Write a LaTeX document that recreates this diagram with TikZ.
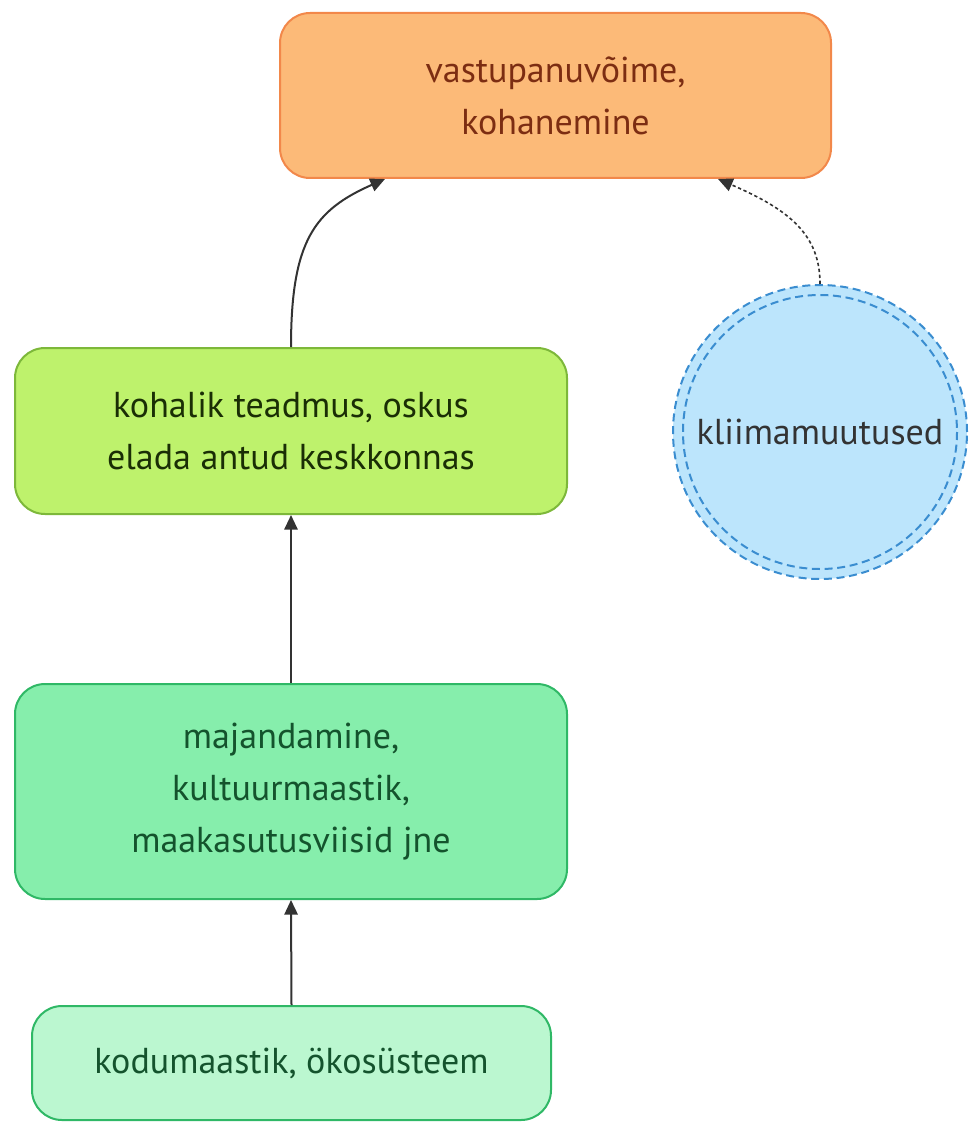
\documentclass[tikz,border=0pt]{standalone}
\usepackage{fontspec}
\setmainfont{PT Sans}
\usetikzlibrary{arrows.meta}

\definecolor{orfill}{HTML}{FCBA78}
\definecolor{ordraw}{HTML}{F2884A}
\definecolor{ortext}{HTML}{7C2D12}
\definecolor{limefill}{HTML}{BEF26C}
\definecolor{limedraw}{HTML}{7DB83A}
\definecolor{limetext}{HTML}{1A2E05}
\definecolor{grfill}{HTML}{86EEAC}
\definecolor{grdraw}{HTML}{2FB866}
\definecolor{grtext}{HTML}{14532D}
\definecolor{lgfill}{HTML}{BBF7D0}
\definecolor{skyfill}{HTML}{BCE5FC}
\definecolor{skydraw}{HTML}{3A8DD0}
\definecolor{linkcol}{HTML}{333333}

\tikzset{
  box/.style={draw, rounded corners=22.5pt, line width=1.5pt, align=center,
    inner sep=0pt, font=\fontsize{27}{39}\selectfont},
  ring/.style={draw=skydraw, line width=1.5pt, dash pattern=on 6pt off 3.5pt},
  link/.style={draw=linkcol, line width=1.5pt, -{Triangle[length=11pt,width=10pt]}},
  dotlink/.style={link, line width=1.2pt, dash pattern=on 2.5pt off 2pt}
}

\begin{document}
\begin{tikzpicture}[x=0.75pt,y=0.75pt,yscale=-1,xscale=1]
		\useasboundingbox (0,0) rectangle (974,1123);
		% boxes
		\node (resil) [box, fill=orfill, draw=ordraw, text=ortext, minimum width=413.25pt, minimum height=123.75pt] at (555.5,95.5) {vastupanuvõime,\\kohanemine};
		\node (know) [box, fill=limefill, draw=limedraw, text=limetext, minimum width=414pt, minimum height=124.5pt] at (291,431) {kohalik teadmus, oskus\\elada antud keskkonnas};
		\node (land) [box, fill=grfill, draw=grdraw, text=grtext, minimum width=414pt, minimum height=161.25pt] at (291,791.5) {majandamine,\\kultuurmaastik,\\maakasutusviisid jne};
		\node (home) [box, fill=lgfill, draw=grdraw, text=grtext, minimum width=389.25pt, minimum height=85.5pt] at (291.5,1063) {kodumaastik, ökosüsteem};
		\node (clim) [circle, fill=skyfill, ring, minimum size=220.5pt, inner sep=0pt, text=linkcol, font=\fontsize{27}{39}\selectfont] at (820,432) {kliimamuutused};
		\draw [ring] (clim.center) circle (137);
		% free ends
		\coordinate (resilL) at (385,179);
		\coordinate (resilR) at (718,179);
		% links
		\draw [link] (home.north) -- (land.south);
		\draw [link] (land.north) -- (know.south);
		\draw [link] (know.north) .. controls (291,240) and (315,210) .. (resilL);
		\draw [dotlink] (clim.north) .. controls (820,235) and (790,210) .. (resilR);
\end{tikzpicture}
\end{document}
